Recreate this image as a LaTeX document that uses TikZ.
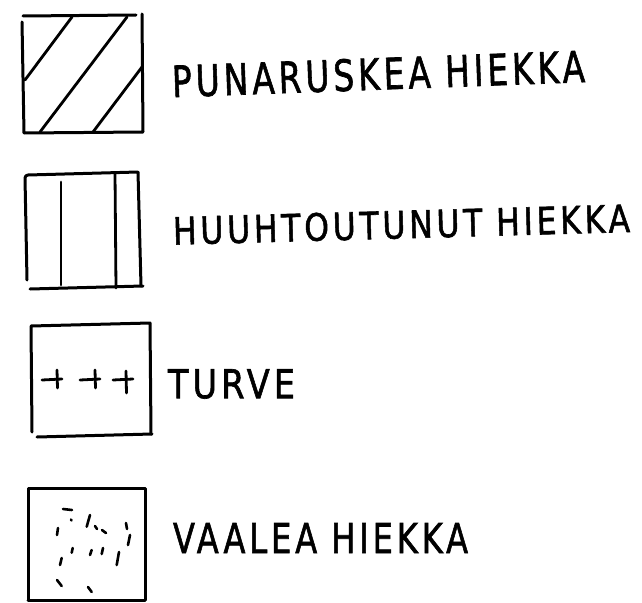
\documentclass[tikz,border=0pt]{standalone}
\usepackage{fontspec}
\setmainfont{DejaVu Sans}[LetterSpace=12,FakeBold=1.6]
\usepackage{graphicx}
\begin{document}
\begin{tikzpicture}[x=1pt,y=-1pt,
  ink/.style={line width=3pt,line cap=round,line join=round,black},
  hatch/.style={line width=2.8pt,line cap=round,black},
  speck/.style={line width=2.6pt,line cap=round,black},
  label/.style={anchor=west,inner sep=0pt,outer sep=0pt}]
\useasboundingbox (0,0) rectangle (642,602);
% --- box 1: diagonal hatching
\draw[ink] (23,16) -- (136,15);
\draw[ink] (22,22) -- (24,133) -- (143,132) -- (142,14);
\draw[hatch] (25,80) -- (72,17);
\draw[hatch] (40,132) -- (127,17);
\draw[hatch] (93,132) -- (142,67);
\node[label,rotate=2.1] (t1) at (172,81.5) {\resizebox{413pt}{32pt}{PUNARUSKEA HIEKKA}};
% --- box 2: vertical lines
\draw[ink] (27,280) -- (25,178) to[out=90,in=180] (28,175) -- (138,172) -- (141,286);
\draw[ink] (30,289) -- (143,286);
\draw[hatch] (61,182) -- (61,285);
\draw[hatch] (115,173) -- (116,288);
\node[label,rotate=1.6] (t2) at (173,231) {\resizebox{457pt}{28pt}{HUUHTOUTUNUT HIEKKA}};
% --- box 3: peat crosses
\draw[ink] (32,432) -- (31,326) -- (150,323) -- (151,434);
\draw[ink] (37,437) -- (152,434);
\foreach \cx/\vx/\ya/\yb in {42/57/370/388, 80/95/370/388, 113/126/371/393}{
  \draw[hatch] (\cx,380) -- (\cx+20,379);
  \draw[hatch] (\vx,\ya) -- (\vx+0.5,\yb);
}
\node[label] (t3) at (168,384) {\resizebox{127pt}{29pt}{TURVE}};
% --- box 4: light sand specks
\draw[ink] (28,600) -- (28,488) -- (145,488) -- (145,600);
\draw[ink] (28,600) -- (145,600);
\foreach \ax/\ay/\bx/\by in {
  63/509/72/510, 71/519.5/71.5/520.5, 90/515/86.7/526.7, 95/526/97/529,
  102/530/106/533, 126/523/127/529, 130/535/128/545, 58/528/57/535,
  72.7/548/71.7/552.7, 91.7/550/90/555, 103/548/101.7/554, 119/552/116.7/565,
  61.7/558/60/565, 57/580/61.7/586, 88/587/91.7/592}{
  \draw[speck] (\ax,\ay) -- (\bx,\by);
}
\node[label] (t4) at (173,538) {\resizebox{295pt}{30pt}{VAALEA HIEKKA}};
\end{tikzpicture}
\end{document}
